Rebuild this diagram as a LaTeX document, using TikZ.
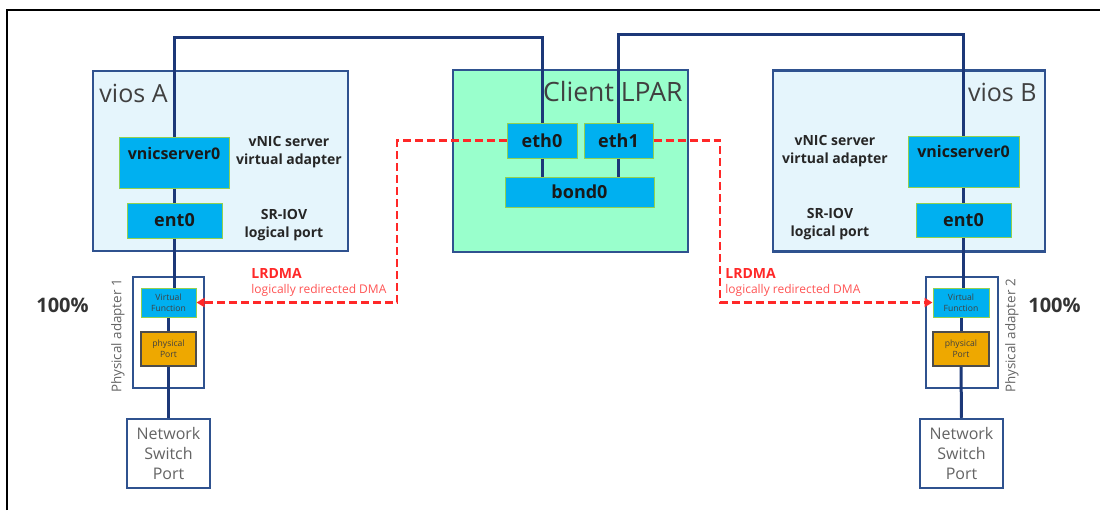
\documentclass[tikz,border=0pt]{standalone}
\usepackage{fontspec}
\setmainfont{Open Sans}
\usetikzlibrary{arrows.meta}

\definecolor{navy}{RGB}{28,56,120}
\definecolor{boxblue}{RGB}{47,82,143}
\definecolor{viosfill}{RGB}{229,245,252}
\definecolor{lparfill}{RGB}{153,255,204}
\definecolor{nicblue}{RGB}{0,176,240}
\definecolor{nicgreen}{RGB}{146,208,80}
\definecolor{portfill}{RGB}{238,168,0}
\definecolor{dmared}{RGB}{255,40,40}
\definecolor{titlegray}{RGB}{64,64,64}
\definecolor{softgray}{RGB}{100,100,100}

\begin{document}
\begin{tikzpicture}[x=0.5pt, y=-0.5pt,
  every node/.style = {inner sep=0pt, align=center},
  host/.style = {rectangle, draw=boxblue, line width=1.25pt},
  nic/.style = {rectangle, draw=nicgreen, fill=nicblue, line width=0.5pt,
    text=black!90, font=\bfseries\fontsize{9}{10}\selectfont},
  tiny/.style = {font=\fontsize{4.3}{5.5}\selectfont, text=black!75},
  note/.style = {font=\bfseries\fontsize{7}{9}\selectfont, text=black!85},
  title/.style = {font=\fontsize{12.5}{14}\selectfont, text=titlegray},
  link/.style = {draw=navy, line width=1.5pt},
  dma/.style = {draw=dmared, line width=1.3pt, dash pattern=on 4pt off 2pt,
    -{Triangle[length=4pt, width=4.5pt]}}]

  \useasboundingbox (0,0) rectangle (1100,510);
  \draw[line width=0.7pt] (7,510) -- (7,10) -- (1100,10);

  % hosts
  \node[host, fill=viosfill, minimum width=127.5pt, minimum height=90pt] (viosA) at (220.5,161) {};
  \node[host, fill=lparfill, minimum width=117.5pt, minimum height=91pt] (lpar) at (570.5,161) {};
  \node[host, fill=viosfill, minimum width=136pt, minimum height=90.5pt] (viosB) at (909,161) {};
  \node[title, anchor=west] (viosAname) at (99,93) {vios A};
  \node[title, anchor=east, font=\fontsize{13.3}{15}\selectfont] (lparname) at (683,92) {Client LPAR};
  \node[title, anchor=east] (viosBname) at (1037,92) {vios B};

  % adapters in the hosts
  \node[nic, minimum width=55pt, minimum height=25.5pt, text height=11pt, text depth=14.5pt,
    font=\bfseries\fontsize{8}{9}\selectfont] (vnicA) at (174,162.5) {vnicserver0};
  \node[nic, minimum width=47.5pt, minimum height=17.5pt] (entA) at (174.5,220.5) {ent0};
  \node[note] (vnicAnote) at (289,152) {vNIC server\\virtual adapter};
  \node[note] (entAnote) at (284,225) {SR-IOV\\logical port};

  \node[nic, minimum width=35pt, minimum height=17.5pt] (eth0) at (542,140.5) {eth0};
  \node[nic, minimum width=34.5pt, minimum height=17.5pt] (eth1) at (618.5,140.5) {eth1};
  \node[nic, minimum width=74.5pt, minimum height=15pt] (bond0) at (579.5,192) {bond0};

  \node[nic, minimum width=55.5pt, minimum height=25.5pt, text height=10.5pt, text depth=15pt,
    font=\bfseries\fontsize{8}{9}\selectfont] (vnicB) at (963.5,161.5) {vnicserver0};
  \node[nic, minimum width=47.5pt, minimum height=17pt] (entB) at (963.5,220) {ent0};
  \node[note] (vnicBnote) at (835,151) {vNIC server\\virtual adapter};
  \node[note] (entBnote) at (830,224) {SR-IOV\\logical port};

  % physical adapters
  \node[host, fill=white, minimum width=35.5pt, minimum height=55.5pt] (padA) at (168.5,332.5) {};
  \node[nic, tiny, minimum width=27.5pt, minimum height=14.5pt] (vfA) at (168.5,302.5) {Virtual\\Function};
  \node[tiny, rectangle, draw=black!70, fill=portfill, line width=0.6pt,
    minimum width=27.5pt, minimum height=17pt] (portA) at (168.5,349) {physical\\Port};
  \node[rotate=90, font=\fontsize{6.7}{8}\selectfont, text=softgray] (padAname) at (118,336) {Physical adapter 1};
  \node[font=\bfseries\fontsize{10}{12}\selectfont, text=black!80] (loadA) at (62.5,305) {100\%};
  \node[host, fill=white, minimum width=41.5pt, minimum height=34.5pt,
    font=\fontsize{8}{10}\selectfont, text=softgray] (swA) at (168.5,453.5) {Network\\Switch\\Port};

  \node[host, fill=white, minimum width=36pt, minimum height=55.5pt] (padB) at (962,332.5) {};
  \node[nic, tiny, minimum width=28pt, minimum height=14.5pt] (vfB) at (961,302.5) {Virtual\\Function};
  \node[tiny, rectangle, draw=black!70, fill=portfill, line width=0.6pt,
    minimum width=28pt, minimum height=17pt] (portB) at (961,349) {physical\\Port};
  \node[rotate=90, font=\fontsize{6.7}{8}\selectfont, text=softgray] (padBname) at (1012,336) {Physical adapter 2};
  \node[font=\bfseries\fontsize{10}{12}\selectfont, text=black!80] (loadB) at (1054.5,305) {100\%};
  \node[host, fill=white, minimum width=41.5pt, minimum height=34.5pt,
    font=\fontsize{8}{10}\selectfont, text=softgray] (swB) at (961.5,453.5) {Network\\Switch\\Port};

  % links
  \coordinate (topA) at (0,37);
  \coordinate (topB) at (0,34);
  \draw[link] (vnicA.north) -- (vnicA.north |- topA) -| (eth0.north);
  \draw[link] (eth1.north) -- (eth1.north |- topB) -| (vnicB.north);
  \draw[link] (eth0.south) -- (eth0.south |- bond0.north);
  \draw[link] (eth1.south) -- (eth1.south |- bond0.north);
  \draw[link] (vnicA.south) -- (vnicA.south |- entA.north);
  \draw[link] (entA.south) -- (entA.south |- vfA.north);
  \draw[link] (vfA.south) -- (portA.north);
  \draw[link] (portA.south) -- (swA.north);
  \draw[link] (vnicB.south) -- (entB.north);
  \draw[link] (entB.south) -- (entB.south |- vfB.north);
  \draw[link] (vfB.south) -- (portB.north);
  \draw[link] (portB.south) -- (swB.north);

  % LRDMA paths
  \coordinate (dmaA) at (397,302.5);
  \coordinate (dmaB) at (720,302.5);
  \draw[dma] (eth0.west) -| (dmaA) -- (vfA.east);
  \draw[dma] (eth1.east) -| (dmaB) -- (vfB.west);
  \node[anchor=west, text=dmared, font=\bfseries\fontsize{7}{8}\selectfont] (lrdmaA) at (251,273) {LRDMA};
  \node[anchor=west, text=dmared!80, font=\fontsize{6}{7}\selectfont] (lrdmaAtext) at (251,290) {logically redirected DMA};
  \node[anchor=west, text=dmared, font=\bfseries\fontsize{7}{8}\selectfont] (lrdmaB) at (725,273) {LRDMA};
  \node[anchor=west, text=dmared!80, font=\fontsize{6}{7}\selectfont] (lrdmaBtext) at (725,290) {logically redirected DMA};
\end{tikzpicture}
\end{document}
